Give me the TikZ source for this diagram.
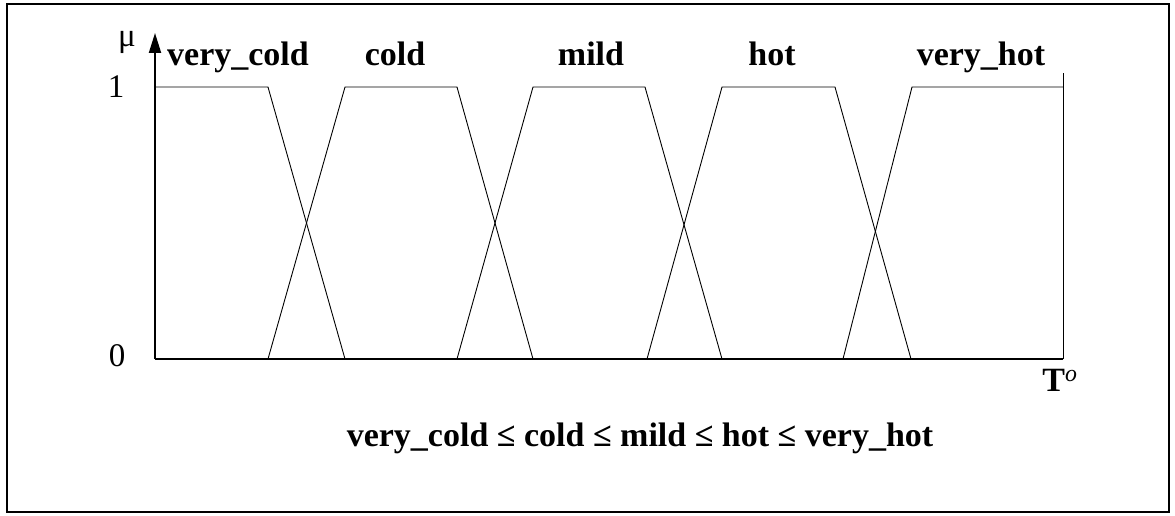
\documentclass[tikz,border=0pt]{standalone}
\usepackage{fontspec}
\setmainfont{Liberation Serif}
\usetikzlibrary{arrows.meta}
\usetikzlibrary{positioning}

\begin{document}
\begin{tikzpicture}[x=1pt,y=-1pt,
  axis/.style={line width=2pt},
  mf/.style={line width=0.9pt},
  setname/.style={font=\fontsize{34}{38}\selectfont\bfseries,anchor=base},
  tick/.style={font=\fontsize{33}{38}\selectfont,anchor=base}]
\useasboundingbox (0,0) rectangle (1175,516);
\draw[line width=2.2pt] (7,4) rectangle (1169,512);
% axes
\coordinate (o) at (155,359);
\coordinate (ytop) at (155,33);
\coordinate (xend) at (1063,359);
\coordinate (rtop) at (1063,73);
\draw[axis,-{Triangle[length=20pt,width=12pt]}] (o) -- (ytop);
\draw[axis] (o) -- (xend);
\draw[mf] (xend) -- (rtop);
\node[tick] (mu) at (127,47) {μ};
\node[tick] (one) at (116,98) {1};
\node[tick] (zero) at (117,366) {0};
\node[setname] (temp) at (1060,391) {T\textsuperscript{\mdseries\itshape o}};
% membership functions
\draw[mf] (155,87) -- (268,87) -- (345,359);
\draw[mf] (268,359) -- (345,87) -- (457,87) -- (533,359);
\draw[mf] (457,359) -- (533,87) -- (645,87) -- (722,359);
\draw[mf] (647,359) -- (722,87) -- (835,87) -- (911,359);
\draw[mf] (843,359) -- (912,87) -- (1063,87);
% labels
\node[setname] (vcold) at (238,66) {very\_cold};
\node[setname] (cold) at (395,66) {cold};
\node[setname] (mild) at (591,66) {mild};
\node[setname] (hot) at (772,66) {hot};
\node[setname] (vhot) at (981,66) {very\_hot};
\node[setname] (order) at (640,446) {very\_cold ≤ cold ≤ mild ≤ hot ≤ very\_hot};
\end{tikzpicture}
\end{document}
